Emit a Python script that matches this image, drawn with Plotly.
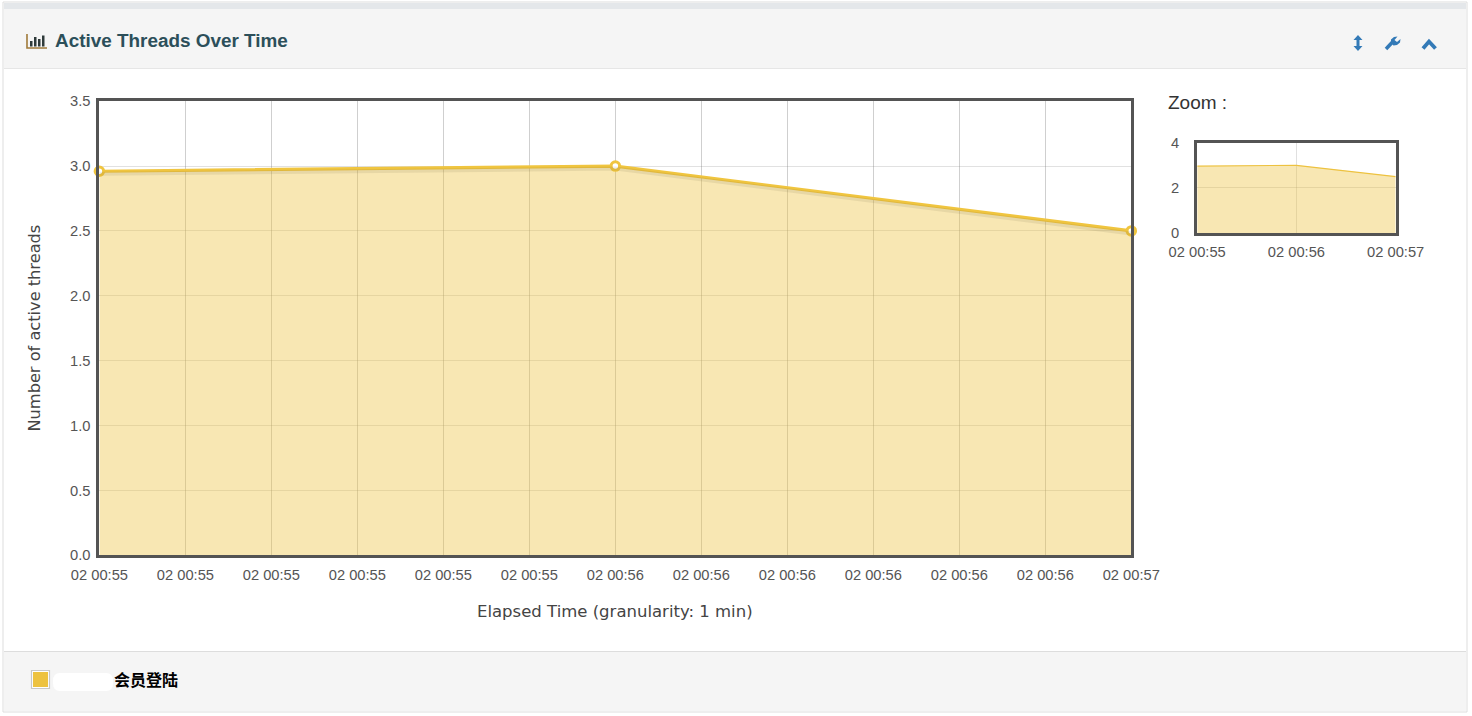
import plotly.graph_objects as go

times = ["2024-01-02 00:55:00", "2024-01-02 00:56:00", "2024-01-02 00:57:00"]
active_threads = [2.96, 3.0, 2.5]
series_name = "会员登陆"
main_ticks = ["2024-01-02 00:%02d:%02d" % (55 + i // 6, (i % 6) * 10) for i in range(13)]
main_y_ticks = [0, 0.5, 1, 1.5, 2, 2.5, 3, 3.5]
zoom_y_ticks = [0, 2, 4]

W, H = 1472, 716
YEL = "#edc240"
FRAME = "#545454"
TICK = "#555555"


def px(x):
    return x / W


def py(y):
    return 1 - y / H


def rect(x0, y0, x1, y1, fill, line=None, lw=1, layer="below"):
    return dict(type="rect", xref="paper", yref="paper", x0=px(x0), x1=px(x1), y0=py(y1), y1=py(y0),
                fillcolor=fill, line=dict(color=line or "rgba(0,0,0,0)", width=lw if line else 0), layer=layer)


def poly(pts, fill=None, line=None, lw=1, close=True):
    d = "M " + " L ".join(f"{px(a):.5f},{py(b):.5f}" for a, b in pts) + (" Z" if close else "")
    return dict(type="path", xref="paper", yref="paper", path=d, fillcolor=fill or "rgba(0,0,0,0)",
                line=dict(color=line or "rgba(0,0,0,0)", width=lw if line else 0), layer="above")


fig = go.Figure()

# main chart: shadow, area, line with markers
fig.add_trace(go.Scatter(x=times, y=active_threads, xaxis="x", yaxis="y3", mode="lines",
                         line=dict(color="rgba(90,80,50,0.10)", width=4), hoverinfo="skip", showlegend=False))
fig.add_trace(go.Scatter(x=times, y=active_threads, xaxis="x", yaxis="y", mode="lines+markers", fill="tozeroy",
                         fillcolor="rgba(237,194,64,0.4)", line=dict(color="#f0c53f", width=3.2),
                         marker=dict(size=8.5, color="white", line=dict(color="#f0c53f", width=3)),
                         cliponaxis=False, showlegend=False, name=series_name))
# overview chart
fig.add_trace(go.Scatter(x=times, y=active_threads, xaxis="x2", yaxis="y2", mode="lines", fill="tozeroy",
                         fillcolor="rgba(237,194,64,0.4)", line=dict(color=YEL, width=1.2), showlegend=False,
                         name=series_name))

L, R, T, B = 99.4, 1131.3, 101.2, 555.3
zL, zR, zT, zB = 1197.2, 1395.7, 142.7, 233
shift = 2.5 / ((B - T) / 3.5)

shapes = [
    rect(3, 2, 1467, 712, "#ffffff", "#dddddd", 1),
    rect(4, 3, 1466, 9, "#e4e7ea"),
    rect(4, 9, 1466, 68, "#f5f5f5"),
    rect(4, 68, 1466, 69, "#e6e6e6"),
    rect(4, 652, 1466, 711, "#f5f5f5"),
    rect(4, 651, 1466, 652, "#dddddd"),
    # title icon
    poly([(27, 34), (27, 48), (47, 48)], line="#a07a3a", lw=1.6, close=False),
    rect(30, 41, 32.5, 46.5, "#2f3a3a", layer="above"),
    rect(34, 37, 36.5, 46.5, "#2f3a3a", layer="above"),
    rect(38, 39, 40.5, 46.5, "#2f3a3a", layer="above"),
    rect(42, 35.5, 44.5, 46.5, "#2f3a3a", layer="above"),
    # resize icon
    poly([(1358, 35), (1362.5, 40), (1359.5, 40), (1359.5, 46), (1362.5, 46), (1358, 51),
          (1353.5, 46), (1356.5, 46), (1356.5, 40), (1353.5, 40)], fill="#337ab7"),
    # wrench icon
    poly([(1386, 49), (1392.5, 42)], line="#337ab7", lw=3.5, close=False),
    poly([(1391, 43), (1391, 39.5), (1394, 37), (1397.5, 36.5), (1394.5, 40), (1397, 42),
          (1400.5, 39), (1400, 42.5), (1397, 45), (1393.5, 45.5)], fill="#337ab7"),
    # collapse icon
    poly([(1423, 48.5), (1429, 41.5), (1435.5, 48.5)], line="#337ab7", lw=3.8, close=False),
    # legend swatch and masked region
    rect(31.5, 670.5, 49.5, 688.5, "#ffffff", "#c8c8c8", 1.2, layer="above"),
    rect(33, 672, 48, 687, YEL, layer="above"),
    dict(type="path", xref="paper", yref="paper", layer="above", fillcolor="#ffffff", line=dict(width=0),
         path="M %f,%f L %f,%f Q %f,%f %f,%f L %f,%f Q %f,%f %f,%f L %f,%f Q %f,%f %f,%f L %f,%f Q %f,%f %f,%f Z" % (
             px(60), py(673), px(106), py(673), px(113), py(673), px(113), py(681),
             px(113), py(683), px(113), py(691), px(106), py(691),
             px(60), py(691), px(53), py(691), px(53), py(683),
             px(53), py(681), px(53), py(673), px(60), py(673))),
]

annotations = [
    dict(text="<b>Active Threads Over Time</b>", x=px(54.5), y=py(41), xanchor="left", yanchor="middle",
         font=dict(family="Liberation Sans", size=18.9, color="#2c4f5a")),
    dict(text="Zoom :", x=px(1168), y=py(103), xanchor="left", yanchor="middle",
         font=dict(family="Liberation Sans", size=19, color="#333333")),
    dict(text="<b>%s</b>" % series_name, x=px(114), y=py(678.5), xanchor="left", yanchor="middle",
         font=dict(family="Noto Sans CJK SC", size=16, color="#000000")),
    dict(text="Elapsed Time (granularity: 1 min)", x=px(615), y=py(611), xanchor="center", yanchor="middle",
         font=dict(family="DejaVu Sans", size=16.5, color="#444444")),
    dict(text="Number of active threads", x=px(34), y=py(328.5), xanchor="center", yanchor="middle", textangle=-90,
         font=dict(family="DejaVu Sans", size=16.2, color="#444444")),
]
for a in annotations:
    a.update(xref="paper", yref="paper", showarrow=False, borderpad=0, borderwidth=0)

axis_line = dict(showline=True, mirror=True, linecolor=FRAME, ticks="", zeroline=False, automargin=False)
fig.update_layout(
    width=W, height=H, margin=dict(l=0, r=0, t=0, b=0), paper_bgcolor="white", plot_bgcolor="rgba(0,0,0,0)",
    showlegend=False, shapes=shapes, annotations=annotations,
    font=dict(family="Liberation Sans", color=TICK, size=14),
    xaxis=dict(domain=[px(L), px(R)], type="date", range=[times[0], times[-1]], anchor="y", tickmode="array",
               tickvals=main_ticks, ticktext=[t[8:16] for t in main_ticks], tickfont=dict(size=14.7, color=TICK),
               gridcolor="rgba(130,130,130,0.38)", gridwidth=1, linewidth=3, ticklabelstandoff=4, **axis_line),
    yaxis=dict(domain=[py(B), py(T)], range=[0, 3.5], anchor="x", tickmode="array", tickvals=main_y_ticks,
               ticktext=["%.1f" % v for v in main_y_ticks], tickfont=dict(size=14.7, color=TICK),
               gridcolor="rgba(130,130,130,0.24)", gridwidth=1, linewidth=3, ticklabelstandoff=3, **axis_line),
    yaxis3=dict(domain=[py(B), py(T)], range=[shift, 3.5 + shift], overlaying="y", anchor="x", visible=False),
    xaxis2=dict(domain=[px(zL), px(zR)], type="date", range=[times[0], times[-1]], anchor="y2", tickmode="array",
                tickvals=times, ticktext=[t[8:16] for t in times], tickfont=dict(size=14.7, color=TICK),
                gridcolor="rgba(130,130,130,0.25)", linewidth=3, ticklabelstandoff=3, **axis_line),
    yaxis2=dict(domain=[py(zB), py(zT)], range=[0, 4], anchor="x2", tickmode="array", tickvals=zoom_y_ticks,
                tickfont=dict(size=14.7, color=TICK), gridcolor="rgba(130,130,130,0.25)", linewidth=3,
                ticklabelstandoff=12, **axis_line),
)

fig.write_html("out.html", config=dict(displayModeBar=False),
               post_script="document.body.style.margin='0';document.body.style.overflow='hidden';")
